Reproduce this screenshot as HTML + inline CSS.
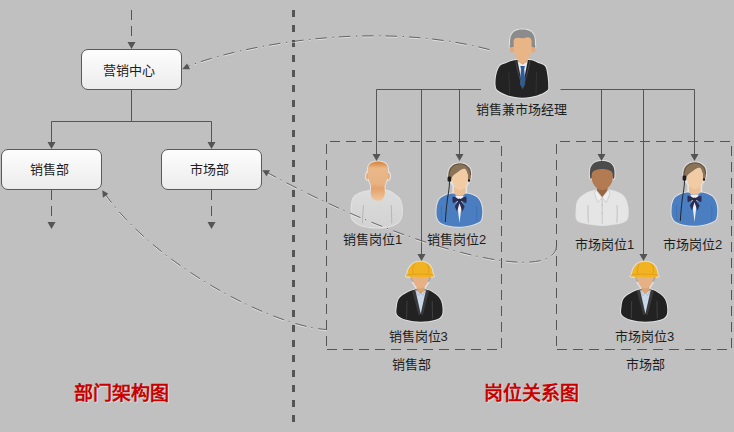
<!DOCTYPE html>
<html lang="zh-CN">
<head>
<meta charset="utf-8">
<style>
html,body{margin:0;padding:0;}
body{width:734px;height:432px;overflow:hidden;background:#c0c0c0;position:relative;font-family:"Liberation Sans",sans-serif;}
svg{position:absolute;left:0;top:0;}
.box{position:absolute;box-sizing:border-box;width:101px;height:41px;border:1px solid #5a5a5a;border-radius:7px;background:linear-gradient(#fdfdfd,#ececec);}
.t{position:absolute;font-size:13px;line-height:13px;color:#1e1e1e;white-space:nowrap;}
.title{position:absolute;font-size:19px;line-height:19px;font-weight:bold;color:#c80000;white-space:nowrap;text-shadow:1px 1px 0 rgba(255,255,255,.45);}
</style>
</head>
<body>
<svg width="734" height="432" viewBox="0 0 734 432">
 <path d="M293.5,10 V423" stroke="#555" stroke-width="3" stroke-dasharray="7 8" fill="none"/>
 <g stroke="#555" stroke-width="1" fill="none" stroke-dasharray="10 6">
  <path d="M330.0,141.5 H501.5"/>
  <path d="M501.5,146.0 V349.5"/>
  <path d="M497.0,349.5 H326.5"/>
  <path d="M326.5,144.0 V349.5"/>
  <path d="M560.0,141.5 H731.5"/>
  <path d="M731.5,146.0 V349.5"/>
  <path d="M727.0,349.5 H556.5"/>
  <path d="M556.5,144.0 V349.5"/>
 </g>
</svg>
<div class="box" style="left:81px;top:49px"></div>
<div class="box" style="left:1px;top:149px"></div>
<div class="box" style="left:161px;top:149px"></div>
<svg width="734" height="432" viewBox="0 0 734 432">
 <g>
  <path d="M515.4,60.1 C511.2,60.7 507.6,62.6 505.0,63.5 C502.4,64.4 501.4,64.3 500.1,65.7 C498.8,67.1 497.8,69.6 497.0,72.0 C496.2,74.4 495.8,77.6 495.6,80.0 C495.4,82.4 495.4,84.8 495.8,86.6 C496.2,88.4 496.0,89.1 498.0,90.6 C500.0,92.1 503.9,94.3 508.0,95.5 C512.1,96.7 517.8,97.8 522.6,97.8 C527.4,97.8 532.9,96.7 537.0,95.5 C541.1,94.3 545.1,92.3 547.0,90.6 C548.9,88.9 548.1,87.9 548.2,85.5 C548.3,83.1 548.0,79.2 547.5,76.0 C547.0,72.8 546.6,68.4 545.0,66.2 C543.4,64.0 540.5,64.0 538.0,63.0 C535.5,62.0 534.0,60.6 530.2,60.1 C526.4,59.6 519.6,59.5 515.4,60.1 Z" fill="#fff" stroke="#fff" stroke-width="2" stroke-linejoin="round" opacity=".55"/>
  <path d="M522.5,29.4 C524.0,29.4 525.6,29.5 527.0,29.9 C528.4,30.3 529.7,30.8 530.8,31.6 C531.9,32.4 532.8,33.5 533.5,34.8 C534.2,36.1 534.6,38.0 534.8,39.5 C535.0,41.0 535.0,42.7 534.9,44.0 C534.8,45.3 536.5,47.5 534.4,47.5 C532.3,47.5 526.5,44.0 522.5,44.0 C518.5,44.0 512.7,47.5 510.6,47.5 C508.5,47.5 510.2,45.3 510.1,44.0 C510.0,42.7 510.0,41.0 510.2,39.5 C510.4,38.0 510.8,36.1 511.5,34.8 C512.2,33.5 513.1,32.4 514.2,31.6 C515.3,30.8 516.6,30.3 518.0,29.9 C519.4,29.5 521.0,29.4 522.5,29.4 Z" fill="#fff" stroke="#fff" stroke-width="2" stroke-linejoin="round" opacity=".55"/>
  <path d="M515.4,60.1 C511.2,60.7 507.6,62.6 505.0,63.5 C502.4,64.4 501.4,64.3 500.1,65.7 C498.8,67.1 497.8,69.6 497.0,72.0 C496.2,74.4 495.8,77.6 495.6,80.0 C495.4,82.4 495.4,84.8 495.8,86.6 C496.2,88.4 496.0,89.1 498.0,90.6 C500.0,92.1 503.9,94.3 508.0,95.5 C512.1,96.7 517.8,97.8 522.6,97.8 C527.4,97.8 532.9,96.7 537.0,95.5 C541.1,94.3 545.1,92.3 547.0,90.6 C548.9,88.9 548.1,87.9 548.2,85.5 C548.3,83.1 548.0,79.2 547.5,76.0 C547.0,72.8 546.6,68.4 545.0,66.2 C543.4,64.0 540.5,64.0 538.0,63.0 C535.5,62.0 534.0,60.6 530.2,60.1 C526.4,59.6 519.6,59.5 515.4,60.1 Z" fill="#232323"/>
  <path d="M517.6,61.5 L527.6,61.5 L522.6,86.5 Z" fill="#e8ebef"/>
  <path d="M520.3,66 L524.9,66 L524.2,69 L525.3,84 L522.6,89 L519.9,84 L521,69 Z" fill="#2e5d9b"/>
  <path d="M515.4,60.1 L518.5,74 L522.6,88.5 M530.2,60.1 L527,74 L522.6,88.5" stroke="#505050" stroke-width=".8" fill="none"/>
  <path d="M509,72 L509.5,94 M536.5,72 L536,94" stroke="#3a3a3a" stroke-width=".7" fill="none"/>
  <path d="M517.5,56 L528,56 L528,61.2 L522.7,64.5 L517.4,61.2 Z" fill="#dba675"/>
  <ellipse cx="512" cy="49.3" rx="2" ry="3.4" fill="#e2aa7a"/>
  <ellipse cx="533.3" cy="49.3" rx="2" ry="3.4" fill="#e2aa7a"/>
  <path d="M522.5,29.4 C524.0,29.4 525.6,29.5 527.0,29.9 C528.4,30.3 529.7,30.8 530.8,31.6 C531.9,32.4 532.8,33.5 533.5,34.8 C534.2,36.1 534.6,38.0 534.8,39.5 C535.0,41.0 535.0,42.7 534.9,44.0 C534.8,45.3 536.5,47.5 534.4,47.5 C532.3,47.5 526.5,44.0 522.5,44.0 C518.5,44.0 512.7,47.5 510.6,47.5 C508.5,47.5 510.2,45.3 510.1,44.0 C510.0,42.7 510.0,41.0 510.2,39.5 C510.4,38.0 510.8,36.1 511.5,34.8 C512.2,33.5 513.1,32.4 514.2,31.6 C515.3,30.8 516.6,30.3 518.0,29.9 C519.4,29.5 521.0,29.4 522.5,29.4 Z" fill="#8b8b8b"/>
  <path d="M514.0,39.5 C514.7,38.1 516.5,38.0 518.0,37.8 C519.5,37.6 521.3,38.4 523.0,38.3 C524.7,38.2 526.6,37.1 528.0,37.3 C529.4,37.5 530.7,38.0 531.3,39.5 C531.9,41.0 531.5,43.9 531.5,46.0 C531.5,48.1 531.4,50.1 531.0,52.0 C530.6,53.9 529.8,55.9 529.0,57.5 C528.2,59.1 527.0,60.5 526.0,61.5 C525.0,62.5 523.9,63.2 522.8,63.2 C521.7,63.2 520.6,62.5 519.5,61.5 C518.4,60.5 517.2,59.1 516.4,57.5 C515.5,55.9 514.8,53.9 514.4,52.0 C514.0,50.1 513.9,48.1 513.8,46.0 C513.7,43.9 513.3,40.9 514.0,39.5 Z" fill="#e8b587"/>
 </g>
 <g>
  <defs>
   <linearGradient id="tsHead" x1="0" y1="161.7" x2="0" y2="201" gradientUnits="userSpaceOnUse">
    <stop offset="0" stop-color="#d9823a"/><stop offset=".08" stop-color="#e09a5c"/><stop offset=".16" stop-color="#e9b888"/>
    <stop offset=".55" stop-color="#e8b385"/><stop offset=".68" stop-color="#e4a26c"/><stop offset="1" stop-color="#f1c8a0"/>
   </linearGradient>
   <linearGradient id="tsShirt" x1="0" y1="191" x2="0" y2="228" gradientUnits="userSpaceOnUse">
    <stop offset="0" stop-color="#dcdcdc"/><stop offset="1" stop-color="#d2d2d2"/>
   </linearGradient>
  </defs>
  <path d="M368.2,191.3 C363.9,191.7 363.1,192.0 360.8,192.9 C358.5,193.8 356.0,195.0 354.6,196.5 C353.2,198.0 352.7,199.1 352.2,202.0 C351.7,204.9 351.6,210.8 351.7,213.7 C351.8,216.6 351.3,217.5 352.5,219.3 C353.7,221.1 355.9,223.1 358.7,224.4 C361.5,225.7 366.1,226.5 369.3,227.0 C372.5,227.5 374.6,227.7 377.8,227.6 C381.0,227.5 385.2,227.4 388.5,226.5 C391.8,225.6 395.7,224.0 397.8,222.4 C399.9,220.8 400.7,219.8 401.3,216.9 C401.9,214.0 401.9,208.2 401.5,205.2 C401.1,202.2 400.6,200.8 399.2,198.8 C397.8,196.9 394.9,194.8 392.8,193.5 C390.7,192.2 390.5,191.2 386.4,190.8 C382.3,190.4 372.5,191.0 368.2,191.3 Z" fill="#fff" stroke="#fff" stroke-width="2" stroke-linejoin="round" opacity=".55"/>
  <path d="M378.0,161.6 C379.6,161.6 381.3,161.8 382.6,162.2 C383.9,162.6 385.0,163.2 385.9,164.0 C386.8,164.8 387.3,165.8 387.7,167.0 C388.1,168.2 388.1,169.7 388.1,171.0 C388.1,172.3 388.0,173.7 387.9,175.0 C387.8,176.3 387.5,177.6 387.2,178.8 C386.9,180.1 386.2,181.2 385.8,182.5 C385.4,183.8 384.6,185.1 384.5,186.5 C384.4,187.9 384.9,189.4 384.9,191.0 C384.9,192.6 384.9,194.3 384.4,195.8 C383.9,197.3 382.9,199.0 381.8,199.8 C380.7,200.7 379.1,200.9 377.8,200.9 C376.5,200.9 374.9,200.7 373.8,199.8 C372.7,199.0 371.7,197.3 371.2,195.8 C370.7,194.3 370.7,192.6 370.7,191.0 C370.7,189.4 371.2,187.9 371.1,186.5 C371.0,185.1 370.2,183.8 369.8,182.5 C369.4,181.2 368.8,180.1 368.5,178.8 C368.2,177.6 368.0,176.3 367.9,175.0 C367.8,173.7 367.8,172.3 367.8,171.0 C367.9,169.7 367.8,168.2 368.2,167.0 C368.6,165.8 369.1,164.8 370.0,164.0 C370.9,163.2 372.0,162.6 373.3,162.2 C374.6,161.8 376.4,161.6 378.0,161.6 Z" fill="#fff" stroke="#fff" stroke-width="2" stroke-linejoin="round" opacity=".55"/>
  <ellipse cx="367.6" cy="176.2" rx="1.6" ry="3.6" fill="#fff" stroke="#fff" stroke-width="2" stroke-linejoin="round" opacity=".55"/>
  <ellipse cx="388.4" cy="176.2" rx="1.6" ry="3.6" fill="#fff" stroke="#fff" stroke-width="2" stroke-linejoin="round" opacity=".55"/>
  <path d="M368.2,191.3 C363.9,191.7 363.1,192.0 360.8,192.9 C358.5,193.8 356.0,195.0 354.6,196.5 C353.2,198.0 352.7,199.1 352.2,202.0 C351.7,204.9 351.6,210.8 351.7,213.7 C351.8,216.6 351.3,217.5 352.5,219.3 C353.7,221.1 355.9,223.1 358.7,224.4 C361.5,225.7 366.1,226.5 369.3,227.0 C372.5,227.5 374.6,227.7 377.8,227.6 C381.0,227.5 385.2,227.4 388.5,226.5 C391.8,225.6 395.7,224.0 397.8,222.4 C399.9,220.8 400.7,219.8 401.3,216.9 C401.9,214.0 401.9,208.2 401.5,205.2 C401.1,202.2 400.6,200.8 399.2,198.8 C397.8,196.9 394.9,194.8 392.8,193.5 C390.7,192.2 390.5,191.2 386.4,190.8 C382.3,190.4 372.5,191.0 368.2,191.3 Z" fill="url(#tsShirt)"/>
  <path d="M363.5,205.2 C362.8,212 362.6,218 362.4,223.3 M391.2,205.2 C391.6,212 391.7,218 391.7,223.3" stroke="#adadad" stroke-width=".8" fill="none"/>
  <ellipse cx="367.6" cy="176.2" rx="1.4" ry="3.4" fill="#e3a977"/>
  <ellipse cx="388.4" cy="176.2" rx="1.4" ry="3.4" fill="#e3a977"/>
  <path d="M378.0,161.6 C379.6,161.6 381.3,161.8 382.6,162.2 C383.9,162.6 385.0,163.2 385.9,164.0 C386.8,164.8 387.3,165.8 387.7,167.0 C388.1,168.2 388.1,169.7 388.1,171.0 C388.1,172.3 388.0,173.7 387.9,175.0 C387.8,176.3 387.5,177.6 387.2,178.8 C386.9,180.1 386.2,181.2 385.8,182.5 C385.4,183.8 384.6,185.1 384.5,186.5 C384.4,187.9 384.9,189.4 384.9,191.0 C384.9,192.6 384.9,194.3 384.4,195.8 C383.9,197.3 382.9,199.0 381.8,199.8 C380.7,200.7 379.1,200.9 377.8,200.9 C376.5,200.9 374.9,200.7 373.8,199.8 C372.7,199.0 371.7,197.3 371.2,195.8 C370.7,194.3 370.7,192.6 370.7,191.0 C370.7,189.4 371.2,187.9 371.1,186.5 C371.0,185.1 370.2,183.8 369.8,182.5 C369.4,181.2 368.8,180.1 368.5,178.8 C368.2,177.6 368.0,176.3 367.9,175.0 C367.8,173.7 367.8,172.3 367.8,171.0 C367.9,169.7 367.8,168.2 368.2,167.0 C368.6,165.8 369.1,164.8 370.0,164.0 C370.9,163.2 372.0,162.6 373.3,162.2 C374.6,161.8 376.4,161.6 378.0,161.6 Z" fill="url(#tsHead)"/>
 </g>
 <g transform="translate(0,0)">
  <path d="M452.4,193.4 C449.0,193.7 447.9,194.3 446.0,195.0 C444.1,195.7 442.6,196.6 441.3,197.6 C440.0,198.6 439.1,199.7 438.4,201.2 C437.7,202.7 437.2,204.7 436.9,206.5 C436.6,208.3 436.5,210.2 436.5,212.0 C436.5,213.8 436.5,215.8 437.1,217.5 C437.7,219.2 438.2,221.1 440.2,222.5 C442.2,223.9 445.9,225.1 449.0,225.8 C452.1,226.5 455.0,226.9 458.5,226.8 C462.0,226.7 466.5,226.2 470.0,225.4 C473.5,224.6 477.6,223.2 479.6,221.8 C481.6,220.4 481.4,218.7 481.9,217.0 C482.3,215.3 482.3,213.3 482.3,211.5 C482.3,209.7 482.1,207.7 481.7,206.0 C481.3,204.3 480.7,202.6 480.0,201.2 C479.3,199.8 478.5,198.6 477.3,197.6 C476.1,196.6 474.6,195.7 472.8,195.0 C471.0,194.3 470.0,193.7 466.6,193.4 C463.2,193.1 455.8,193.1 452.4,193.4 Z" fill="#fff" stroke="#fff" stroke-width="2" stroke-linejoin="round" opacity=".55"/>
  <path d="M459.7,163.4 C461.6,163.4 463.9,163.7 465.5,164.4 C467.1,165.1 468.6,166.5 469.5,167.8 C470.4,169.2 470.8,170.9 471.0,172.5 C471.2,174.1 471.1,176.1 470.8,177.5 C470.6,178.9 470.1,179.9 469.5,181.0 C468.9,182.1 468.1,183.0 467.5,184.0 C466.9,185.0 466.5,185.2 466.2,187.0 C465.9,188.8 466.9,193.2 465.8,195.0 C464.7,196.8 461.8,197.5 459.8,197.5 C457.8,197.5 454.9,196.8 453.8,195.0 C452.7,193.2 453.6,188.8 453.4,187.0 C453.1,185.2 452.9,185.0 452.3,184.0 C451.7,183.0 450.6,182.1 450.0,181.0 C449.4,179.9 448.7,179.0 448.5,177.5 C448.3,176.0 448.3,173.6 448.6,172.0 C448.9,170.4 449.3,169.1 450.2,167.8 C451.1,166.5 452.4,165.1 454.0,164.4 C455.6,163.7 457.8,163.4 459.7,163.4 Z" fill="#fff" stroke="#fff" stroke-width="2" stroke-linejoin="round" opacity=".55"/>
  <path d="M452.4,193.4 C449.0,193.7 447.9,194.3 446.0,195.0 C444.1,195.7 442.6,196.6 441.3,197.6 C440.0,198.6 439.1,199.7 438.4,201.2 C437.7,202.7 437.2,204.7 436.9,206.5 C436.6,208.3 436.5,210.2 436.5,212.0 C436.5,213.8 436.5,215.8 437.1,217.5 C437.7,219.2 438.2,221.1 440.2,222.5 C442.2,223.9 445.9,225.1 449.0,225.8 C452.1,226.5 455.0,226.9 458.5,226.8 C462.0,226.7 466.5,226.2 470.0,225.4 C473.5,224.6 477.6,223.2 479.6,221.8 C481.6,220.4 481.4,218.7 481.9,217.0 C482.3,215.3 482.3,213.3 482.3,211.5 C482.3,209.7 482.1,207.7 481.7,206.0 C481.3,204.3 480.7,202.6 480.0,201.2 C479.3,199.8 478.5,198.6 477.3,197.6 C476.1,196.6 474.6,195.7 472.8,195.0 C471.0,194.3 470.0,193.7 466.6,193.4 C463.2,193.1 455.8,193.1 452.4,193.4 Z" fill="#4a7ec0"/>
  <path d="M441.5,206 C441,213 441.5,218 442,222 M476.6,206 C477,212 476.8,218 476.4,221.5" stroke="#3f6fae" stroke-width=".8" fill="none"/>
  <path d="M455.5,195.5 L463.5,195.5 L460.8,212 L459.5,223 L458.2,212 Z" fill="#eef0f4"/>
  <path d="M453.9,187 L465.6,187 L465.6,193.5 C463,196.5 456.5,196.5 453.9,193.5 Z" fill="#ecc097"/>
  <path d="M459.4,199.6 C457,198 455,197 452.8,196.6 C452.2,198.5 452.3,201 452.9,203.2 C455,202.3 457.2,201.2 459.4,200.2 Z M459.6,199.6 C462,198 464,197 466.2,196.6 C466.8,198.5 466.7,201 466.2,203.2 C464,202.3 461.8,201.2 459.6,200.2 Z" fill="#2b2e54"/>
  <path d="M458.6,200 L454.8,206.5 L457,211.6 L459.5,203.2 L462.4,211.6 L464.6,206.8 L460.4,200 Z" fill="#2b2e54"/>
  <ellipse cx="459.5" cy="200" rx="1.7" ry="1.5" fill="#24274a"/>
  <path d="M459.7,163.4 C461.6,163.4 463.9,163.7 465.5,164.4 C467.1,165.1 468.6,166.5 469.5,167.8 C470.4,169.2 470.8,170.9 471.0,172.5 C471.2,174.1 471.1,176.1 470.8,177.5 C470.6,178.9 470.0,180.6 469.5,181.0 C469.0,181.4 468.3,181.2 468.0,180.0 C467.7,178.8 468.1,175.9 467.5,174.0 C466.9,172.1 466.0,168.8 464.1,168.7 C462.2,168.6 458.0,172.0 456.0,173.5 C454.0,175.0 452.9,176.1 452.0,177.5 C451.1,178.9 451.1,182.0 450.5,182.0 C449.9,182.0 448.8,179.2 448.5,177.5 C448.2,175.8 448.3,173.6 448.6,172.0 C448.9,170.4 449.3,169.1 450.2,167.8 C451.1,166.5 452.4,165.1 454.0,164.4 C455.6,163.7 457.8,163.4 459.7,163.4 Z" fill="#8b7357"/>
  <path d="M464.1,168.7 C465.9,168.5 466.4,171.1 467.0,172.6 C467.6,174.1 467.9,175.9 468.0,177.5 C468.1,179.1 467.9,180.7 467.6,182.0 C467.4,183.3 467.2,184.5 466.5,185.6 C465.8,186.7 464.6,188.1 463.5,188.8 C462.4,189.6 461.3,190.1 460.2,190.1 C459.1,190.1 457.9,189.6 456.8,188.8 C455.7,188.1 454.5,186.7 453.8,185.6 C453.1,184.5 452.8,183.3 452.5,182.0 C452.2,180.7 451.4,178.9 452.0,177.5 C452.6,176.1 454.0,175.0 456.0,173.5 C458.0,172.0 462.3,168.8 464.1,168.7 Z" fill="#f0cba4"/>
  <path d="M449,179 C448.2,170 452,164.5 459.7,163.8 C466,164 470.2,168 470.6,175" stroke="#3b3530" stroke-width=".7" fill="none" opacity=".8"/>
  <rect x="447.6" y="176.5" width="3.6" height="5" rx="1.2" fill="#1c1c1c"/>
  <ellipse cx="469" cy="180.6" rx="1.1" ry="1.3" fill="#1c1c1c"/>
  <path d="M449.5,181 C449.5,188 448.2,194 447.3,200 C446.4,207 445.8,214 445.3,222" stroke="#1c1c1c" stroke-width=".9" fill="none"/>
 </g>
 <g>
  <path d="M596.0,190.6 C591.6,191.5 586.0,193.9 583.0,195.8 C580.0,197.7 578.9,199.1 577.8,201.9 C576.7,204.7 576.6,209.4 576.6,212.4 C576.6,215.4 575.7,218.3 577.8,220.2 C579.9,222.1 585.0,222.8 589.1,223.6 C593.2,224.4 597.9,224.9 602.2,224.9 C606.6,224.9 611.2,224.5 615.2,223.6 C619.2,222.7 624.5,222.1 626.5,219.3 C628.5,216.6 627.7,210.6 627.4,207.1 C627.1,203.6 625.9,200.7 624.7,198.5 C623.5,196.3 623.0,195.4 620.4,194.1 C617.8,192.8 613.2,191.2 609.1,190.6 C605.0,190.0 600.4,189.7 596.0,190.6 Z" fill="#fff" stroke="#fff" stroke-width="2" stroke-linejoin="round" opacity=".55"/>
  <path d="M602.2,161.1 C604.5,161.1 607.1,161.4 609.0,162.3 C610.9,163.2 612.4,164.8 613.3,166.5 C614.2,168.2 614.4,170.3 614.5,172.4 C614.6,174.5 614.4,178.0 613.9,178.8 C613.4,179.6 613.5,178.3 611.6,177.0 C609.7,175.7 605.3,171.0 602.2,171.0 C599.1,171.0 594.8,175.7 592.8,177.0 C590.8,178.3 591.0,179.6 590.5,178.8 C590.0,178.0 589.8,174.5 589.9,172.4 C590.0,170.3 590.2,168.2 591.1,166.5 C592.0,164.8 593.5,163.2 595.4,162.3 C597.2,161.4 599.9,161.1 602.2,161.1 Z" fill="#fff" stroke="#fff" stroke-width="2" stroke-linejoin="round" opacity=".55"/>
  <path d="M596.0,190.6 C591.6,191.5 586.0,193.9 583.0,195.8 C580.0,197.7 578.9,199.1 577.8,201.9 C576.7,204.7 576.6,209.4 576.6,212.4 C576.6,215.4 575.7,218.3 577.8,220.2 C579.9,222.1 585.0,222.8 589.1,223.6 C593.2,224.4 597.9,224.9 602.2,224.9 C606.6,224.9 611.2,224.5 615.2,223.6 C619.2,222.7 624.5,222.1 626.5,219.3 C628.5,216.6 627.7,210.6 627.4,207.1 C627.1,203.6 625.9,200.7 624.7,198.5 C623.5,196.3 623.0,195.4 620.4,194.1 C617.8,192.8 613.2,191.2 609.1,190.6 C605.0,190.0 600.4,189.7 596.0,190.6 Z" fill="#e5e5e5"/>
  <path d="M588.2,205 C587.8,212 588,218 588.3,222.5 M617,205 C617.4,212 617.2,218 616.8,222.5" stroke="#b9b9b9" stroke-width=".8" fill="none"/>
  <path d="M597,186 L607.4,186 L607.6,192 L602.2,197.5 L596.8,192 Z" fill="#9a6743"/>
  <path d="M596,189.5 L602.2,197.5 L598,202.5 L594.5,193.5 Z M608.4,189.5 L602.2,197.5 L606.4,202.5 L609.9,193.5 Z" fill="#efefef" stroke="#bdbdbd" stroke-width=".6"/>
  <path d="M602.2,197.5 L602.2,224" stroke="#c2c2c2" stroke-width=".8"/>
  <circle cx="602.2" cy="205" r=".6" fill="#aaa"/><circle cx="602.2" cy="213" r=".6" fill="#aaa"/>
  <path d="M602.2,161.1 C604.5,161.1 607.1,161.4 609.0,162.3 C610.9,163.2 612.4,164.8 613.3,166.5 C614.2,168.2 614.4,170.3 614.5,172.4 C614.6,174.5 614.4,178.0 613.9,178.8 C613.4,179.6 613.5,178.3 611.6,177.0 C609.7,175.7 605.3,171.0 602.2,171.0 C599.1,171.0 594.8,175.7 592.8,177.0 C590.8,178.3 591.0,179.6 590.5,178.8 C590.0,178.0 589.8,174.5 589.9,172.4 C590.0,170.3 590.2,168.2 591.1,166.5 C592.0,164.8 593.5,163.2 595.4,162.3 C597.2,161.4 599.9,161.1 602.2,161.1 Z" fill="#4c4c4c"/>
  <path d="M602.2,169.0 C604.1,169.0 606.4,169.3 608.0,169.8 C609.6,170.3 611.0,171.0 611.8,172.0 C612.6,173.0 612.7,174.5 612.8,176.0 C612.9,177.5 612.8,179.4 612.3,181.0 C611.8,182.6 611.0,184.2 610.0,185.5 C609.0,186.8 607.3,188.2 606.0,189.0 C604.7,189.8 603.5,190.0 602.2,190.0 C600.9,190.0 599.7,189.8 598.4,189.0 C597.1,188.2 595.4,186.8 594.4,185.5 C593.4,184.2 592.6,182.6 592.1,181.0 C591.6,179.4 591.5,177.5 591.6,176.0 C591.7,174.5 591.8,173.0 592.6,172.0 C593.4,171.0 594.8,170.3 596.4,169.8 C598.0,169.3 600.3,169.0 602.2,169.0 Z" fill="#b27b52"/>
 </g>
 <g transform="translate(235,-1)">
  <path d="M452.4,193.4 C449.0,193.7 447.9,194.3 446.0,195.0 C444.1,195.7 442.6,196.6 441.3,197.6 C440.0,198.6 439.1,199.7 438.4,201.2 C437.7,202.7 437.2,204.7 436.9,206.5 C436.6,208.3 436.5,210.2 436.5,212.0 C436.5,213.8 436.5,215.8 437.1,217.5 C437.7,219.2 438.2,221.1 440.2,222.5 C442.2,223.9 445.9,225.1 449.0,225.8 C452.1,226.5 455.0,226.9 458.5,226.8 C462.0,226.7 466.5,226.2 470.0,225.4 C473.5,224.6 477.6,223.2 479.6,221.8 C481.6,220.4 481.4,218.7 481.9,217.0 C482.3,215.3 482.3,213.3 482.3,211.5 C482.3,209.7 482.1,207.7 481.7,206.0 C481.3,204.3 480.7,202.6 480.0,201.2 C479.3,199.8 478.5,198.6 477.3,197.6 C476.1,196.6 474.6,195.7 472.8,195.0 C471.0,194.3 470.0,193.7 466.6,193.4 C463.2,193.1 455.8,193.1 452.4,193.4 Z" fill="#fff" stroke="#fff" stroke-width="2" stroke-linejoin="round" opacity=".55"/>
  <path d="M459.7,163.4 C461.6,163.4 463.9,163.7 465.5,164.4 C467.1,165.1 468.6,166.5 469.5,167.8 C470.4,169.2 470.8,170.9 471.0,172.5 C471.2,174.1 471.1,176.1 470.8,177.5 C470.6,178.9 470.1,179.9 469.5,181.0 C468.9,182.1 468.1,183.0 467.5,184.0 C466.9,185.0 466.5,185.2 466.2,187.0 C465.9,188.8 466.9,193.2 465.8,195.0 C464.7,196.8 461.8,197.5 459.8,197.5 C457.8,197.5 454.9,196.8 453.8,195.0 C452.7,193.2 453.6,188.8 453.4,187.0 C453.1,185.2 452.9,185.0 452.3,184.0 C451.7,183.0 450.6,182.1 450.0,181.0 C449.4,179.9 448.7,179.0 448.5,177.5 C448.3,176.0 448.3,173.6 448.6,172.0 C448.9,170.4 449.3,169.1 450.2,167.8 C451.1,166.5 452.4,165.1 454.0,164.4 C455.6,163.7 457.8,163.4 459.7,163.4 Z" fill="#fff" stroke="#fff" stroke-width="2" stroke-linejoin="round" opacity=".55"/>
  <path d="M452.4,193.4 C449.0,193.7 447.9,194.3 446.0,195.0 C444.1,195.7 442.6,196.6 441.3,197.6 C440.0,198.6 439.1,199.7 438.4,201.2 C437.7,202.7 437.2,204.7 436.9,206.5 C436.6,208.3 436.5,210.2 436.5,212.0 C436.5,213.8 436.5,215.8 437.1,217.5 C437.7,219.2 438.2,221.1 440.2,222.5 C442.2,223.9 445.9,225.1 449.0,225.8 C452.1,226.5 455.0,226.9 458.5,226.8 C462.0,226.7 466.5,226.2 470.0,225.4 C473.5,224.6 477.6,223.2 479.6,221.8 C481.6,220.4 481.4,218.7 481.9,217.0 C482.3,215.3 482.3,213.3 482.3,211.5 C482.3,209.7 482.1,207.7 481.7,206.0 C481.3,204.3 480.7,202.6 480.0,201.2 C479.3,199.8 478.5,198.6 477.3,197.6 C476.1,196.6 474.6,195.7 472.8,195.0 C471.0,194.3 470.0,193.7 466.6,193.4 C463.2,193.1 455.8,193.1 452.4,193.4 Z" fill="#4a7ec0"/>
  <path d="M441.5,206 C441,213 441.5,218 442,222 M476.6,206 C477,212 476.8,218 476.4,221.5" stroke="#3f6fae" stroke-width=".8" fill="none"/>
  <path d="M455.5,195.5 L463.5,195.5 L460.8,212 L459.5,223 L458.2,212 Z" fill="#eef0f4"/>
  <path d="M453.9,187 L465.6,187 L465.6,193.5 C463,196.5 456.5,196.5 453.9,193.5 Z" fill="#ecc097"/>
  <path d="M459.4,199.6 C457,198 455,197 452.8,196.6 C452.2,198.5 452.3,201 452.9,203.2 C455,202.3 457.2,201.2 459.4,200.2 Z M459.6,199.6 C462,198 464,197 466.2,196.6 C466.8,198.5 466.7,201 466.2,203.2 C464,202.3 461.8,201.2 459.6,200.2 Z" fill="#2b2e54"/>
  <path d="M458.6,200 L454.8,206.5 L457,211.6 L459.5,203.2 L462.4,211.6 L464.6,206.8 L460.4,200 Z" fill="#2b2e54"/>
  <ellipse cx="459.5" cy="200" rx="1.7" ry="1.5" fill="#24274a"/>
  <path d="M459.7,163.4 C461.6,163.4 463.9,163.7 465.5,164.4 C467.1,165.1 468.6,166.5 469.5,167.8 C470.4,169.2 470.8,170.9 471.0,172.5 C471.2,174.1 471.1,176.1 470.8,177.5 C470.6,178.9 470.0,180.6 469.5,181.0 C469.0,181.4 468.3,181.2 468.0,180.0 C467.7,178.8 468.1,175.9 467.5,174.0 C466.9,172.1 466.0,168.8 464.1,168.7 C462.2,168.6 458.0,172.0 456.0,173.5 C454.0,175.0 452.9,176.1 452.0,177.5 C451.1,178.9 451.1,182.0 450.5,182.0 C449.9,182.0 448.8,179.2 448.5,177.5 C448.2,175.8 448.3,173.6 448.6,172.0 C448.9,170.4 449.3,169.1 450.2,167.8 C451.1,166.5 452.4,165.1 454.0,164.4 C455.6,163.7 457.8,163.4 459.7,163.4 Z" fill="#8b7357"/>
  <path d="M464.1,168.7 C465.9,168.5 466.4,171.1 467.0,172.6 C467.6,174.1 467.9,175.9 468.0,177.5 C468.1,179.1 467.9,180.7 467.6,182.0 C467.4,183.3 467.2,184.5 466.5,185.6 C465.8,186.7 464.6,188.1 463.5,188.8 C462.4,189.6 461.3,190.1 460.2,190.1 C459.1,190.1 457.9,189.6 456.8,188.8 C455.7,188.1 454.5,186.7 453.8,185.6 C453.1,184.5 452.8,183.3 452.5,182.0 C452.2,180.7 451.4,178.9 452.0,177.5 C452.6,176.1 454.0,175.0 456.0,173.5 C458.0,172.0 462.3,168.8 464.1,168.7 Z" fill="#f0cba4"/>
  <path d="M449,179 C448.2,170 452,164.5 459.7,163.8 C466,164 470.2,168 470.6,175" stroke="#3b3530" stroke-width=".7" fill="none" opacity=".8"/>
  <rect x="447.6" y="176.5" width="3.6" height="5" rx="1.2" fill="#1c1c1c"/>
  <ellipse cx="469" cy="180.6" rx="1.1" ry="1.3" fill="#1c1c1c"/>
  <path d="M449.5,181 C449.5,188 448.2,194 447.3,200 C446.4,207 445.8,214 445.3,222" stroke="#1c1c1c" stroke-width=".9" fill="none"/>
 </g>
 <g transform="translate(0,0)">
  <path d="M414.3,289.8 C410.7,290.5 407.2,292.4 404.6,293.9 C402.0,295.4 400.2,296.6 398.9,298.8 C397.6,301.0 397.1,304.2 396.8,306.9 C396.5,309.6 395.7,312.9 397.3,315.0 C398.9,317.1 402.3,318.7 406.2,319.8 C410.1,320.9 415.9,321.8 420.8,321.8 C425.7,321.8 431.9,320.9 435.4,319.8 C438.9,318.7 440.8,317.4 441.9,315.0 C443.0,312.6 442.6,308.0 442.2,305.2 C441.8,302.4 440.8,300.0 439.4,298.0 C438.0,296.0 435.9,294.5 433.8,293.1 C431.7,291.7 429.8,290.4 426.5,289.8 C423.2,289.2 417.9,289.1 414.3,289.8 Z" fill="#fff" stroke="#fff" stroke-width="2" stroke-linejoin="round" opacity=".55"/>
  <path d="M420.8,261.8 C422.2,261.8 423.7,261.8 425.2,262.4 C426.7,263.0 428.6,264.0 429.8,265.4 C431.0,266.8 431.7,269.0 432.2,270.5 C432.7,272.0 432.6,273.4 432.8,274.4 C433.0,275.4 435.2,276.1 433.2,276.6 C431.1,277.1 424.9,277.2 420.5,277.2 C416.1,277.2 408.8,277.1 406.6,276.6 C404.4,276.1 406.9,275.7 407.2,274.4 C407.5,273.1 407.7,270.7 408.6,269.0 C409.5,267.3 411.2,265.1 412.5,264.0 C413.8,262.9 415.1,262.7 416.5,262.3 C417.9,261.9 419.4,261.8 420.8,261.8 Z" fill="#fff" stroke="#fff" stroke-width="2" stroke-linejoin="round" opacity=".55"/>
  <path d="M411.5,276 L429.5,276 L428.5,282 L424,289 L417,289 L412.5,282 Z" fill="#fff" stroke="#fff" stroke-width="2" stroke-linejoin="round" opacity=".55"/>
  <path d="M414.3,289.8 C410.7,290.5 407.2,292.4 404.6,293.9 C402.0,295.4 400.2,296.6 398.9,298.8 C397.6,301.0 397.1,304.2 396.8,306.9 C396.5,309.6 395.7,312.9 397.3,315.0 C398.9,317.1 402.3,318.7 406.2,319.8 C410.1,320.9 415.9,321.8 420.8,321.8 C425.7,321.8 431.9,320.9 435.4,319.8 C438.9,318.7 440.8,317.4 441.9,315.0 C443.0,312.6 442.6,308.0 442.2,305.2 C441.8,302.4 440.8,300.0 439.4,298.0 C438.0,296.0 435.9,294.5 433.8,293.1 C431.7,291.7 429.8,290.4 426.5,289.8 C423.2,289.2 417.9,289.1 414.3,289.8 Z" fill="#222"/>
  <path d="M412,290.5 L415.6,289.8 L420.6,314.5 L418.5,315 Z M429.2,290.5 L425.8,289.8 L420.8,314.5 L422.9,315 Z" fill="#3a3a3a"/>
  <path d="M415.4,290.2 L426,290.2 L420.7,314 Z" fill="#c9d7e8"/>
  <path d="M415.4,290.2 L418.6,295.5 L420.4,292.6 M426,290.2 L422.8,295.5 L421,292.6" stroke="#9fb1c6" stroke-width=".6" fill="none"/>
  <path d="M407,301 L406.6,318.5 M432.2,301 L432.6,318.5" stroke="#4a4a4a" stroke-width=".7" fill="none"/>
  <path d="M416.8,286 L424.5,286 L424.8,290.5 L420.7,294 L416.6,290.5 Z" fill="#d8a375"/>
  <path d="M410.2,276.6 L413.6,276.6 L414.4,282.5 L411.6,281.6 Z M431.2,276.6 L427.7,276.6 L426.9,282.5 L429.7,281.6 Z" fill="#a7a7a7"/>
  <path d="M412.7,276.6 C415.2,275.9 425.6,275.9 428.1,276.6 C430.6,277.3 428.1,279.6 427.8,281.0 C427.5,282.4 426.9,283.9 426.2,285.0 C425.5,286.1 424.4,287.0 423.5,287.6 C422.6,288.2 421.5,288.4 420.5,288.4 C419.5,288.4 418.4,288.2 417.5,287.6 C416.6,287.0 415.5,286.1 414.8,285.0 C414.1,283.9 413.5,282.4 413.1,281.0 C412.8,279.6 410.2,277.3 412.7,276.6 Z" fill="#e6b185"/>
  <path d="M420.8,261.8 C422.2,261.8 423.7,261.8 425.2,262.4 C426.7,263.0 428.6,264.0 429.8,265.4 C431.0,266.8 431.7,269.0 432.2,270.5 C432.7,272.0 432.6,273.4 432.8,274.4 C433.0,275.4 435.2,276.1 433.2,276.6 C431.1,277.1 424.9,277.2 420.5,277.2 C416.1,277.2 408.8,277.1 406.6,276.6 C404.4,276.1 406.9,275.7 407.2,274.4 C407.5,273.1 407.7,270.7 408.6,269.0 C409.5,267.3 411.2,265.1 412.5,264.0 C413.8,262.9 415.1,262.7 416.5,262.3 C417.9,261.9 419.4,261.8 420.8,261.8 Z" fill="#f2b322"/>
  <path d="M406,275.2 C412,273.8 429,273.8 433.6,275.2" stroke="#dc9d14" stroke-width=".8" fill="none"/>
  <path d="M415.5,263.5 C412.5,266 412,270.5 413.5,273.8 M426,263.5 C429,266 429.5,270.5 428,273.8" stroke="#d8981a" stroke-width=".8" fill="none"/>
 </g>
 <g transform="translate(224.7,0)">
  <path d="M414.3,289.8 C410.7,290.5 407.2,292.4 404.6,293.9 C402.0,295.4 400.2,296.6 398.9,298.8 C397.6,301.0 397.1,304.2 396.8,306.9 C396.5,309.6 395.7,312.9 397.3,315.0 C398.9,317.1 402.3,318.7 406.2,319.8 C410.1,320.9 415.9,321.8 420.8,321.8 C425.7,321.8 431.9,320.9 435.4,319.8 C438.9,318.7 440.8,317.4 441.9,315.0 C443.0,312.6 442.6,308.0 442.2,305.2 C441.8,302.4 440.8,300.0 439.4,298.0 C438.0,296.0 435.9,294.5 433.8,293.1 C431.7,291.7 429.8,290.4 426.5,289.8 C423.2,289.2 417.9,289.1 414.3,289.8 Z" fill="#fff" stroke="#fff" stroke-width="2" stroke-linejoin="round" opacity=".55"/>
  <path d="M420.8,261.8 C422.2,261.8 423.7,261.8 425.2,262.4 C426.7,263.0 428.6,264.0 429.8,265.4 C431.0,266.8 431.7,269.0 432.2,270.5 C432.7,272.0 432.6,273.4 432.8,274.4 C433.0,275.4 435.2,276.1 433.2,276.6 C431.1,277.1 424.9,277.2 420.5,277.2 C416.1,277.2 408.8,277.1 406.6,276.6 C404.4,276.1 406.9,275.7 407.2,274.4 C407.5,273.1 407.7,270.7 408.6,269.0 C409.5,267.3 411.2,265.1 412.5,264.0 C413.8,262.9 415.1,262.7 416.5,262.3 C417.9,261.9 419.4,261.8 420.8,261.8 Z" fill="#fff" stroke="#fff" stroke-width="2" stroke-linejoin="round" opacity=".55"/>
  <path d="M411.5,276 L429.5,276 L428.5,282 L424,289 L417,289 L412.5,282 Z" fill="#fff" stroke="#fff" stroke-width="2" stroke-linejoin="round" opacity=".55"/>
  <path d="M414.3,289.8 C410.7,290.5 407.2,292.4 404.6,293.9 C402.0,295.4 400.2,296.6 398.9,298.8 C397.6,301.0 397.1,304.2 396.8,306.9 C396.5,309.6 395.7,312.9 397.3,315.0 C398.9,317.1 402.3,318.7 406.2,319.8 C410.1,320.9 415.9,321.8 420.8,321.8 C425.7,321.8 431.9,320.9 435.4,319.8 C438.9,318.7 440.8,317.4 441.9,315.0 C443.0,312.6 442.6,308.0 442.2,305.2 C441.8,302.4 440.8,300.0 439.4,298.0 C438.0,296.0 435.9,294.5 433.8,293.1 C431.7,291.7 429.8,290.4 426.5,289.8 C423.2,289.2 417.9,289.1 414.3,289.8 Z" fill="#222"/>
  <path d="M412,290.5 L415.6,289.8 L420.6,314.5 L418.5,315 Z M429.2,290.5 L425.8,289.8 L420.8,314.5 L422.9,315 Z" fill="#3a3a3a"/>
  <path d="M415.4,290.2 L426,290.2 L420.7,314 Z" fill="#c9d7e8"/>
  <path d="M415.4,290.2 L418.6,295.5 L420.4,292.6 M426,290.2 L422.8,295.5 L421,292.6" stroke="#9fb1c6" stroke-width=".6" fill="none"/>
  <path d="M407,301 L406.6,318.5 M432.2,301 L432.6,318.5" stroke="#4a4a4a" stroke-width=".7" fill="none"/>
  <path d="M416.8,286 L424.5,286 L424.8,290.5 L420.7,294 L416.6,290.5 Z" fill="#d8a375"/>
  <path d="M410.2,276.6 L413.6,276.6 L414.4,282.5 L411.6,281.6 Z M431.2,276.6 L427.7,276.6 L426.9,282.5 L429.7,281.6 Z" fill="#a7a7a7"/>
  <path d="M412.7,276.6 C415.2,275.9 425.6,275.9 428.1,276.6 C430.6,277.3 428.1,279.6 427.8,281.0 C427.5,282.4 426.9,283.9 426.2,285.0 C425.5,286.1 424.4,287.0 423.5,287.6 C422.6,288.2 421.5,288.4 420.5,288.4 C419.5,288.4 418.4,288.2 417.5,287.6 C416.6,287.0 415.5,286.1 414.8,285.0 C414.1,283.9 413.5,282.4 413.1,281.0 C412.8,279.6 410.2,277.3 412.7,276.6 Z" fill="#e6b185"/>
  <path d="M420.8,261.8 C422.2,261.8 423.7,261.8 425.2,262.4 C426.7,263.0 428.6,264.0 429.8,265.4 C431.0,266.8 431.7,269.0 432.2,270.5 C432.7,272.0 432.6,273.4 432.8,274.4 C433.0,275.4 435.2,276.1 433.2,276.6 C431.1,277.1 424.9,277.2 420.5,277.2 C416.1,277.2 408.8,277.1 406.6,276.6 C404.4,276.1 406.9,275.7 407.2,274.4 C407.5,273.1 407.7,270.7 408.6,269.0 C409.5,267.3 411.2,265.1 412.5,264.0 C413.8,262.9 415.1,262.7 416.5,262.3 C417.9,261.9 419.4,261.8 420.8,261.8 Z" fill="#f2b322"/>
  <path d="M406,275.2 C412,273.8 429,273.8 433.6,275.2" stroke="#dc9d14" stroke-width=".8" fill="none"/>
  <path d="M415.5,263.5 C412.5,266 412,270.5 413.5,273.8 M426,263.5 C429,266 429.5,270.5 428,273.8" stroke="#d8981a" stroke-width=".8" fill="none"/>
 </g>
 <g stroke="#555" stroke-width="1" fill="none">
  <path d="M131.5,10 V42" stroke-dasharray="10 6"/>
  <path d="M131.5,90 V121.5 M51.5,121.5 H211.5 M51.5,121.5 V142 M211.5,121.5 V142"/>
  <path d="M51.5,190 V222 M211.5,190 V222" stroke-dasharray="10 6"/>
  <path d="M376.5,89.5 H481 M560.5,89.5 H694.5 M376.5,89.5 V154 M459.5,89.5 V154 M421.5,89.5 V254 M601.5,89.5 V154 M694.5,89.5 V154 M643.5,89.5 V254"/>
 </g>
 <g fill="#555">
  <path d="M127.5,42 h8 l-4,7 z"/><path d="M47.5,142 h8 l-4,7 z"/><path d="M207.5,142 h8 l-4,7 z"/><path d="M47.5,222 h8 l-4,7 z"/><path d="M207.5,222 h8 l-4,7 z"/><path d="M372.5,154 h8 l-4,7 z"/><path d="M455.5,154 h8 l-4,7 z"/><path d="M597.5,154 h8 l-4,7 z"/><path d="M690.5,154 h8 l-4,7 z"/><path d="M417.5,254 h8 l-4,7 z"/><path d="M639.5,254 h8 l-4,7 z"/>
 </g>
 <g fill="none" stroke-dasharray="11.4 5 1.2 5.8">
  <g stroke="#fff" stroke-width="1" opacity=".55" transform="translate(0,1)">
   <path d="M489.5,49.6 C356.93,14.9 209.95,54.99 183,68.6"/>
   <path d="M262.8,170.1 C410.7,251.9 556.5,285.7 556.5,245" stroke-dashoffset="-3.5"/>
   <path d="M102.3,190.3 C154.4,266.3 273.7,326.5 326.5,329.5" stroke-dashoffset="-4.2"/>
  </g>
  <g stroke="#555" stroke-width=".85">
   <path d="M489.5,49.6 C356.93,14.9 209.95,54.99 183,68.6"/>
   <path d="M262.8,170.1 C410.7,251.9 556.5,285.7 556.5,245" stroke-dashoffset="-3.5"/>
   <path d="M102.3,190.3 C154.4,266.3 273.7,326.5 326.5,329.5" stroke-dashoffset="-4.2"/>
  </g>
 </g>
 <g fill="#555">
  <path d="M182.2,69.3 L187,63.4 L190.1,69.3 Z"/>
  <path d="M262.3,170.3 L270,170.3 L266.6,176.3 Z"/>
  <path d="M102.3,190.3 L108.3,193.7 L102.9,197.7 Z"/>
 </g>
</svg>
<div class="t" style="left:103px;top:64px">营销中心</div><div class="t" style="left:30px;top:163px">销售部</div><div class="t" style="left:190px;top:163px">市场部</div><div class="t" style="left:476px;top:103px">销售兼市场经理</div><div class="t" style="left:343px;top:233px">销售岗位1</div><div class="t" style="left:427px;top:233px">销售岗位2</div><div class="t" style="left:575px;top:238px">市场岗位1</div><div class="t" style="left:663px;top:238px">市场岗位2</div><div class="t" style="left:388.5px;top:330px">销售岗位3</div><div class="t" style="left:615px;top:330px">市场岗位3</div><div class="t" style="left:392px;top:358px">销售部</div><div class="t" style="left:626px;top:358px">市场部</div>
<div class="title" style="left:73.5px;top:384px">部门架构图</div><div class="title" style="left:483.5px;top:384px">岗位关系图</div>
</body>
</html>
